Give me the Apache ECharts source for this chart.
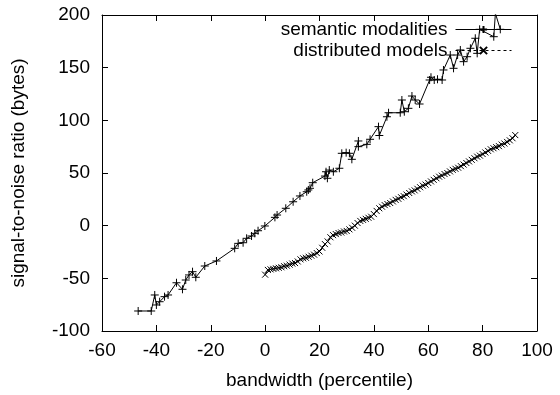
<!DOCTYPE html>
<html>
<head>
<meta charset="utf-8">
<script src="https://cdn.jsdelivr.net/npm/echarts@6/dist/echarts.min.js"></script>
<style>
  html, body { margin: 0; padding: 0; background: #fff; }
  #chart { width: 560px; height: 395px; }
</style>
</head>
<body>
<div id="chart"></div>
<script>
// ---- data ----
const seriesNames = ['semantic modalities', 'distributed models'];
const xTicks = [-60, -40, -20, 0, 20, 40, 60, 80, 100];
const yTicks = [-100, -50, 0, 50, 100, 150, 200];

const semanticX = [-46.7, -41.9, -40.6, -40.0, -38.8, -37.0, -35.7, -32.6, -30.4, -29.2,
  -28.0, -26.7, -25.5, -22.2, -17.9, -11.2, -9.9, -8.1, -6.8, -5.0,
  -3.8, -2.6, -0.1, 3.6, 4.4, 7.6, 10.3, 12.8, 15.3, 15.9,
  16.5, 17.5, 22.0, 22.4, 22.9, 23.6, 25.1, 27.3, 28.2, 29.8,
  31.0, 31.9, 34.3, 34.3, 37.4, 38.6, 41.7, 42.0, 44.8, 45.4,
  49.7, 50.3, 51.2, 52.7, 54.0, 55.2, 56.8, 60.5, 61.0, 62.2,
  63.4, 65.1, 65.6, 68.1, 69.3, 70.8, 71.8, 73.0, 74.3, 75.5,
  77.3, 78.0, 78.9, 84.1, 84.7, 86.5];
const semanticY = [-81.0, -81.0, -65.8, -75.3, -72.2, -67.4, -65.8, -54.2, -60.4, -51.6,
  -46.8, -43.7, -49.0, -38.3, -33.5, -21.5, -16.8, -16.2, -12.0, -9.8,
  -7.3, -4.8, -0.3, 7.9, 10.1, 16.5, 22.7, 28.2, 32.2, 33.9,
  35.5, 40.8, 47.1, 51.2, 45.0, 52.8, 51.2, 54.5, 68.7, 69.3,
  68.7, 63.0, 80.4, 75.0, 77.2, 82.0, 94.0, 85.6, 103.4, 107.2,
  107.2, 119.3, 108.2, 111.4, 123.1, 119.3, 115.5, 138.3, 140.9, 138.3,
  139.0, 138.3, 147.8, 162.0, 149.4, 162.0, 166.8, 155.7, 160.4, 168.4,
  177.9, 163.6, 186.4, 179.4, 201.5, 186.4];

const distributedX = [0, 1, 2, 3, 4, 5, 6, 7, 8, 9,
  10, 11, 12, 13, 14, 15, 16, 17, 18, 19,
  20, 21, 22, 23, 24, 25, 26, 27, 28, 29,
  30, 31, 32, 33, 34, 35, 36, 37, 38, 39,
  40, 41, 42, 43, 44, 45, 46, 47, 48, 49,
  50, 51, 52, 53, 54, 55, 56, 57, 58, 59,
  60, 61, 62, 63, 64, 65, 66, 67, 68, 69,
  70, 71, 72, 73, 74, 75, 76, 77, 78, 79,
  80, 81, 82, 83, 84, 85, 86, 87, 88, 89,
  90, 91, 92];
const distributedY = [-46.5, -42, -41.5, -41, -40.5, -40, -39.5, -38.5, -38, -37,
  -36, -35.5, -34, -32, -31, -30.5, -29.5, -28.5, -27.5, -26,
  -24.5, -21, -17.5, -15, -11, -9, -8, -7, -6.5, -5.5,
  -5, -3.5, -2, 0, 2.5, 4.5, 5.5, 6.5, 7.5, 8.5,
  11, 14, 16.5, 18, 19.5, 20.5, 21.5, 23, 24.5, 25.5,
  27, 28, 29.5, 31, 32.5, 33.5, 35, 36.5, 38, 39,
  40.5, 42, 43.5, 45, 46.5, 47.5, 49, 50, 51.5, 53,
  54, 55, 56.5, 58, 59.5, 61, 62.5, 64, 65.5, 66.5,
  68, 69.5, 71, 72.5, 73.5, 74.5, 75.5, 77, 78, 79.5,
  81, 83, 86];

const xTitle = 'bandwidth (percentile)';
const yTitle = 'signal-to-noise ratio (bytes)';

// ---- chart ----
const FONT = "'Liberation Sans', Arial, Helvetica, sans-serif";
const FS = 19;
const zip = (xs, ys) => xs.map((x, i) => [x, ys[i]]);

const baseAxis = {
  axisLine: { show: true, onZero: false, lineStyle: { color: '#000', width: 1 } },
  axisTick: { show: true, inside: true, length: 6, lineStyle: { color: '#000', width: 1 } },
  splitLine: { show: false }
};

const chart = echarts.init(document.getElementById('chart'), null, { renderer: 'canvas' });
chart.setOption({
  animation: false,
  backgroundColor: '#fff',
  textStyle: { fontFamily: FONT, color: '#000' },
  grid: { left: 102, right: 23, top: 15, bottom: 64, containLabel: false },
  legend: {
    orient: 'vertical',
    right: 43,
    top: 15,
    align: 'right',
    itemWidth: 56,
    itemHeight: 9,
    itemGap: 2,
    selectedMode: false,
    textStyle: { fontFamily: FONT, fontSize: FS, color: '#000', padding: [0, 3, 0, 0] },
    data: [
      { name: seriesNames[0], lineStyle: { type: 'solid', color: '#000', width: 1 } },
      { name: seriesNames[1], lineStyle: { type: [3, 3], color: '#000', width: 1 } }
    ]
  },
  xAxis: [
    Object.assign({}, baseAxis, {
      type: 'value', position: 'bottom', min: xTicks[0], max: xTicks[xTicks.length - 1], interval: 20,
      name: xTitle, nameLocation: 'middle', nameGap: 40,
      nameTextStyle: { fontFamily: FONT, fontSize: FS, color: '#000' },
      axisLabel: { show: true, margin: 10, fontFamily: FONT, fontSize: FS, color: '#000' }
    }),
    Object.assign({}, baseAxis, {
      type: 'value', position: 'top', min: xTicks[0], max: xTicks[xTicks.length - 1], interval: 20,
      axisLabel: { show: false }
    })
  ],
  yAxis: [
    Object.assign({}, baseAxis, {
      type: 'value', position: 'left', min: yTicks[0], max: yTicks[yTicks.length - 1], interval: 50,
      name: yTitle, nameLocation: 'middle', nameGap: 74, nameRotate: 90,
      nameTextStyle: { fontFamily: FONT, fontSize: FS, color: '#000' },
      axisLabel: { show: true, margin: 12, fontFamily: FONT, fontSize: FS, color: '#000' }
    }),
    Object.assign({}, baseAxis, {
      type: 'value', position: 'right', min: yTicks[0], max: yTicks[yTicks.length - 1], interval: 50,
      axisLabel: { show: false }
    })
  ],
  series: [
    {
      name: seriesNames[0], type: 'line', xAxisIndex: 0, yAxisIndex: 0,
      data: zip(semanticX, semanticY),
      symbol: 'path://M5,0L5,10M0,5L10,5', symbolSize: 8, showAllSymbol: true,
      clip: true,
      lineStyle: { color: '#000', width: 1 },
      itemStyle: { color: '#000', borderColor: '#000', borderWidth: 1 }
    },
    {
      name: seriesNames[1], type: 'line', xAxisIndex: 0, yAxisIndex: 0,
      data: zip(distributedX, distributedY),
      symbol: 'path://M0,0L10,10M10,0L0,10', symbolSize: 6, showAllSymbol: true,
      clip: true,
      lineStyle: { color: '#000', width: 1 },
      itemStyle: { color: '#000', borderColor: '#000', borderWidth: 1 }
    }
  ]
});
</script>
</body>
</html>
